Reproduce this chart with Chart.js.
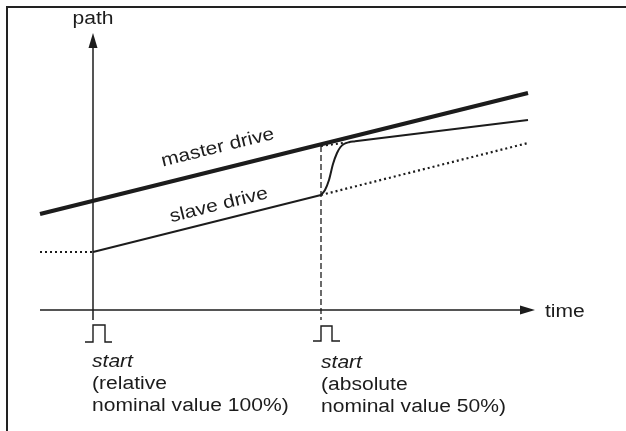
<!DOCTYPE html>
<html>
<head>
<meta charset="utf-8">
<script src="https://cdn.jsdelivr.net/npm/chart.js@4.4.1/dist/chart.umd.min.js"></script>
<style>
  html, body { margin: 0; padding: 0; background: #fff; }
  #wrap { position: relative; width: 626px; height: 431px; }
  #frame {
    position: absolute; left: 6px; top: 6px; right: 0; bottom: 0;
    border-top: 2px solid #222; border-left: 2px solid #222;
    pointer-events: none;
  }
  canvas { position: absolute; left: 0; top: 0; }
</style>
</head>
<body>
<div id="wrap">
  <canvas id="c" width="626" height="431"></canvas>
  <div id="frame"></div>
</div>
<script>
// ---- data (x = time units, y = path units) ----
const masterDrive = [[-5.3, 9.6], [43.5, 21.7]];
const slaveBefore = [[-5.3, 5.8], [0, 5.8]];
const slaveDrive = [[0, 5.8], [22.8, 11.5]];
const slaveUnchanged = [[22.8, 11.5], [43.5, 16.7]];
const slaveCatchUp = [[22.8, 11.5], [23.2, 12.0], [23.6, 13.0], [24.0, 14.6], [24.4, 15.7], [24.75, 16.3], [25.1, 16.6], [25.6, 16.78], [26.2, 16.88]];
const slaveCorrected = [[26.2, 16.88], [43.5, 19.0]];
const slaveTarget = [[22.8, 16.4], [25.0, 16.7]];
const startMarker = [[22.8, 16.4], [22.8, -1.0]];
const pulse1 = [[-0.8, -3.2], [0, -3.2], [0, -1.5], [1.2, -1.5], [1.2, -3.2], [1.9, -3.2]];
const pulse2 = [[22.0, -3.1], [22.8, -3.1], [22.8, -1.6], [23.9, -1.6], [23.9, -3.1], [24.7, -3.1]];
const timeAxis = [[-5.3, 0], [43.0, 0]];
const pathAxis = [[0, -1.0], [0, 26.5]];
const timeArrowTip = [44.2, 0];
const pathArrowTip = [0, 27.7];

const INK = "#1c1c1c";
const toPts = arr => arr.map(p => ({ x: p[0], y: p[1] }));

function line(data, width, dash, extra) {
  return Object.assign({
    data: toPts(data),
    showLine: true,
    borderColor: INK,
    borderWidth: width,
    borderDash: dash || [],
    pointRadius: 0,
    fill: false,
    tension: 0
  }, extra || {});
}

// ---- arrows + text labels ----
const labels = [
  { text: "path", x: 0, y: 28.6, align: "center" },
  { text: "time", x: 45.2, y: -0.7, align: "left" },
  { text: "start", x: -0.1, y: -5.7, align: "left", italic: true },
  { text: "(relative", x: -0.1, y: -7.9, align: "left" },
  { text: "nominal value 100%)", x: -0.1, y: -10.1, align: "left" },
  { text: "start", x: 22.8, y: -5.8, align: "left", italic: true },
  { text: "(absolute", x: 22.8, y: -8.0, align: "left" },
  { text: "nominal value 50%)", x: 22.8, y: -10.2, align: "left" },
  { text: "master drive", x: 12.6, y: 15.75, align: "center", along: masterDrive },
  { text: "slave drive", x: 12.7, y: 10.0, align: "center", along: slaveDrive }
];

const annotate = {
  id: "annotate",
  afterDatasetsDraw(chart) {
    const ctx = chart.ctx;
    const xs = chart.scales.x, ys = chart.scales.y;
    const px = v => xs.getPixelForValue(v);
    const py = v => ys.getPixelForValue(v);

    ctx.save();
    ctx.fillStyle = INK;
    // path arrow (up)
    let tx = px(pathArrowTip[0]), ty = py(pathArrowTip[1]);
    ctx.beginPath();
    ctx.moveTo(tx, ty);
    ctx.lineTo(tx - 4.5, ty + 15);
    ctx.lineTo(tx + 4.5, ty + 15);
    ctx.closePath();
    ctx.fill();
    // time arrow (right)
    tx = px(timeArrowTip[0]); ty = py(timeArrowTip[1]);
    ctx.beginPath();
    ctx.moveTo(tx, ty);
    ctx.lineTo(tx - 15, ty - 4.5);
    ctx.lineTo(tx - 15, ty + 4.5);
    ctx.closePath();
    ctx.fill();

    ctx.textBaseline = "alphabetic";
    labels.forEach(l => {
      ctx.save();
      ctx.font = (l.italic ? "italic " : "") + "18px 'Liberation Sans', Arial, sans-serif";
      ctx.translate(px(l.x), py(l.y));
      if (l.along) {
        const a = l.along;
        const ang = Math.atan2(py(a[1][1]) - py(a[0][1]), px(a[1][0]) - px(a[0][0]));
        ctx.rotate(ang);
      }
      ctx.scale(1.17, 1);
      ctx.textAlign = l.align;
      ctx.fillText(l.text, 0, 0);
      ctx.restore();
    });
    ctx.restore();
  }
};

new Chart(document.getElementById("c"), {
  type: "scatter",
  data: {
    datasets: [
      line(timeAxis, 1.5),
      line(pathAxis, 1.5),
      line(startMarker, 1.3, [6, 3]),
      line(pulse1, 1.4),
      line(pulse2, 1.4),
      line(slaveBefore, 2, [2, 3]),
      line(slaveUnchanged, 2.2, [2, 3]),
      line(slaveTarget, 2, [2, 3]),
      line(slaveDrive, 2),
      line(slaveCatchUp, 2, [], { cubicInterpolationMode: "monotone" }),
      line(slaveCorrected, 2),
      line(masterDrive, 4.2)
    ]
  },
  options: {
    responsive: false,
    animation: false,
    layout: { padding: 0 },
    plugins: {
      legend: { display: false },
      tooltip: { enabled: false }
    },
    scales: {
      x: { type: "linear", display: false, min: -9.3, max: 53.3 },
      y: { type: "linear", display: false, min: -12.1, max: 31.0 }
    }
  },
  plugins: [annotate]
});
</script>
</body>
</html>
